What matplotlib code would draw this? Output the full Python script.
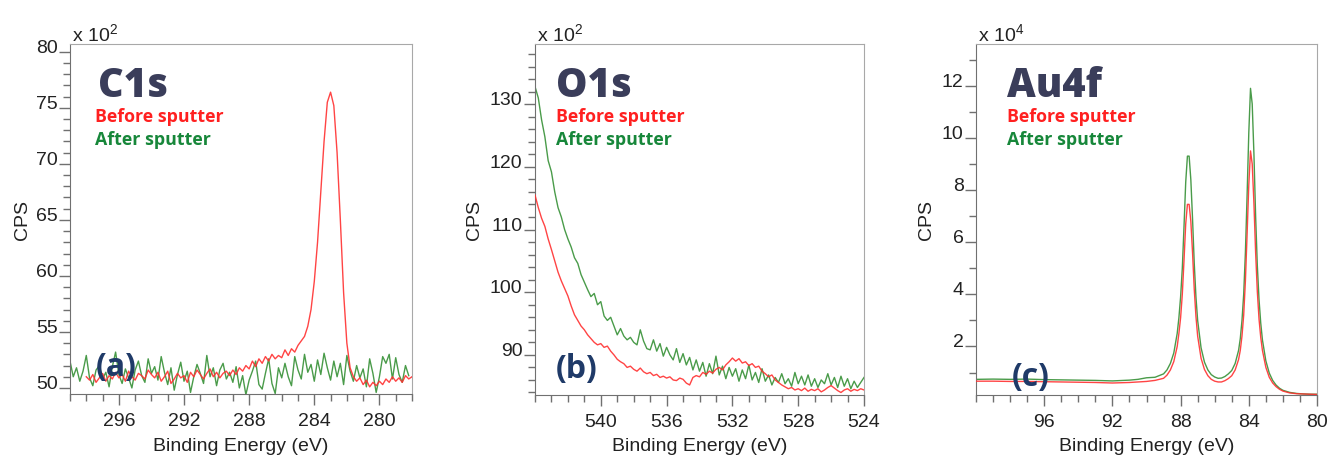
import numpy as np
import matplotlib
matplotlib.use("Agg")
import matplotlib.pyplot as plt
from matplotlib.ticker import MultipleLocator

plt.rcParams['font.family'] = ['Liberation Sans', 'DejaVu Sans']
plt.rcParams['mathtext.fontset'] = 'custom'
plt.rcParams['mathtext.rm'] = 'Liberation Sans'
plt.rcParams['mathtext.it'] = 'Liberation Sans'

# ---------------- data (intensities in units of the axis multiplier) ----------------
# C1s, 0.2 eV steps
c1s_after_start, c1s_before_start, c1s_step = 299.0, 298.0, 0.2
c1s_after = [
    52.4, 51.0, 51.8, 50.6, 51.5, 52.9, 50.9, 50.2, 51.6, 52.0,
    50.8, 51.4, 50.1, 51.9, 53.2, 51.2, 50.4, 51.7, 50.9, 50.0,
    51.6, 52.4, 51.1, 50.5, 52.6, 51.3, 51.9, 50.7, 52.8, 51.4,
    50.3, 51.8, 49.8, 51.2, 52.3, 50.6, 51.5, 49.6, 51.0, 52.1,
    51.3, 50.4, 52.9, 51.0, 51.8, 50.2, 51.6, 52.2, 50.8, 51.4,
    50.5, 51.9, 50.0, 51.1, 49.4, 50.7, 51.5, 52.4, 50.3, 49.9,
    51.3, 52.6, 50.4, 49.5, 51.8, 50.9, 52.2, 51.0, 50.2, 52.8,
    51.6, 50.8, 53.0, 51.4, 52.1, 50.6, 52.5, 51.2, 53.1, 51.8,
    50.7, 52.4, 51.0, 52.2, 50.3, 52.9, 51.5, 50.6, 52.0, 50.9,
    51.7, 50.1, 52.6, 51.3, 49.6, 51.0, 52.8, 52.2, 53.0, 50.8,
    52.7, 51.2, 50.5, 52.0, 51.1,
]
c1s_before = [
    51.0, 50.7, 51.2, 50.5, 50.9, 51.3, 50.6, 51.1, 50.8, 51.4,
    50.9, 51.2, 50.6, 51.5, 51.0, 50.7, 51.3, 51.1, 50.8, 51.6,
    51.2, 50.9, 51.4, 50.6, 51.0, 51.5, 50.4, 50.8, 51.3, 50.9,
    51.1, 50.5, 51.4, 51.0, 51.6, 51.2, 50.8, 51.3, 51.7, 51.0,
    51.4, 50.9, 51.3, 51.5, 51.1, 51.6, 51.2, 51.8, 51.5, 52.0,
    51.7, 52.4, 51.9, 52.6, 52.2, 52.8, 52.4, 53.0, 52.6, 52.9,
    52.7, 53.4, 52.9, 53.5, 53.2, 53.8, 54.2, 54.6, 55.5, 57.0,
    59.5, 63.0, 67.5, 72.0, 75.5, 76.4, 75.2, 71.0, 65.0, 58.5,
    54.0, 51.8, 51.0, 50.6, 50.9, 50.3, 50.7, 50.1, 50.5, 50.2,
    50.6, 50.3, 50.8, 50.5, 51.0, 50.6, 50.9, 50.5, 51.1, 50.8, 51.0,
]

# O1s, 0.2 eV steps from 544.0
o1s_start, o1s_step = 544.0, 0.2
o1s_before = [
    115.5, 113.5, 111.8, 110.5, 108.5, 106.8, 105.0, 103.2, 101.8, 100.6,
    99.4, 97.8, 96.4, 95.5, 94.6, 94.0, 93.2, 92.6, 92.0, 91.6,
    91.8, 91.2, 91.4, 90.6, 90.0, 89.3, 88.9, 88.6, 88.0, 88.2,
    87.7, 87.4, 87.9, 87.3, 87.0, 87.2, 86.7, 86.9, 86.4, 86.6,
    86.3, 86.5, 86.0, 85.9, 86.3, 86.1, 85.5, 85.2, 86.4, 86.7,
    86.5, 87.2, 86.9, 87.4, 87.1, 87.7, 88.0, 87.6, 88.4, 88.9,
    89.5, 89.0, 89.4, 88.7, 88.9, 88.3, 88.6, 88.0, 88.2, 87.4,
    87.0, 86.5, 86.8, 86.0, 85.6, 85.2, 84.9, 84.6, 84.8, 84.4,
    84.6, 84.3, 84.7, 84.2, 84.5, 84.3, 84.6, 84.1, 84.4, 84.8,
    85.1, 84.7, 84.3, 84.0, 84.4, 84.6, 84.2, 84.5, 84.3, 84.6, 84.4,
]
o1s_after = [
    132.8, 131.0, 127.5, 124.8, 121.0, 119.2, 116.0, 113.5, 112.0, 110.0,
    108.5, 107.2, 105.5, 104.6, 102.8, 101.6, 100.4, 99.3, 99.8, 98.0,
    98.5, 96.2, 95.5, 96.0, 94.6, 93.2, 94.2, 93.0, 92.4, 92.8,
    92.0, 91.6, 94.0, 92.2, 91.0, 90.8, 92.4, 90.6, 91.8, 89.8,
    91.2, 90.0, 89.2, 91.0, 88.8, 90.2, 88.4, 89.6, 87.6, 89.2,
    87.4, 88.8, 86.6, 88.6, 87.0, 89.8, 86.8, 88.2, 86.2, 88.0,
    86.6, 87.8, 85.8, 87.6, 86.2, 88.4, 86.0, 87.2, 85.6, 87.8,
    85.8, 86.8, 85.2, 86.4, 85.6, 87.0, 85.4, 86.2, 85.0, 87.2,
    85.4, 86.6, 85.2, 86.8, 85.0, 86.2, 84.8, 86.0, 85.4, 87.0,
    85.2, 86.4, 84.8, 86.6, 85.0, 86.2, 84.6, 85.8, 84.8, 85.6, 86.4,
]

# Au4f (x 10^4)
au4f_energy = [
    100.0, 99.0, 98.0, 97.0, 96.0, 95.0, 94.0, 93.0, 92.0, 91.0,
    90.5, 90.0, 89.5, 89.0, 88.8, 88.6, 88.4, 88.2, 88.1, 88.0,
    87.9, 87.8, 87.7, 87.6, 87.5, 87.4, 87.3, 87.2, 87.1, 87.0,
    86.8, 86.6, 86.4, 86.2, 86.0, 85.8, 85.6, 85.4, 85.2, 85.0,
    84.8, 84.6, 84.5, 84.4, 84.3, 84.2, 84.1, 84.0, 83.9, 83.8,
    83.7, 83.6, 83.5, 83.4, 83.3, 83.2, 83.0, 82.8, 82.6, 82.4,
    82.2, 82.0, 81.6, 81.2, 80.8, 80.4, 80.0,
]
au4f_after = [
    0.74, 0.75, 0.74, 0.75, 0.73, 0.72, 0.71, 0.70, 0.68, 0.71,
    0.74, 0.80, 0.82, 0.95, 1.10, 1.35, 1.75, 2.5, 3.1, 3.9,
    5.0, 6.6, 8.3, 9.3, 9.3, 8.4, 6.9, 5.2, 3.9, 3.0,
    1.95, 1.4, 1.1, 0.92, 0.83, 0.78, 0.79, 0.85, 0.95, 1.08,
    1.35, 1.85, 2.3, 3.0, 4.0, 5.6, 7.8, 10.2, 11.9, 11.3,
    9.4, 7.0, 5.1, 3.8, 2.9, 2.25, 1.45, 0.98, 0.70, 0.52,
    0.40, 0.32, 0.24, 0.20, 0.18, 0.17, 0.17,
]
au4f_before = [
    0.67, 0.67, 0.66, 0.66, 0.65, 0.64, 0.63, 0.62, 0.60, 0.62,
    0.64, 0.66, 0.70, 0.78, 0.90, 1.10, 1.42, 2.0, 2.5, 3.1,
    4.0, 5.3, 6.7, 7.45, 7.45, 6.8, 5.6, 4.2, 3.15, 2.4,
    1.55, 1.12, 0.88, 0.74, 0.67, 0.64, 0.64, 0.69, 0.77, 0.88,
    1.10, 1.50, 1.85, 2.4, 3.2, 4.5, 6.3, 8.2, 9.5, 9.0,
    7.5, 5.6, 4.1, 3.05, 2.35, 1.85, 1.2, 0.82, 0.60, 0.46,
    0.36, 0.29, 0.22, 0.19, 0.18, 0.17, 0.16,
]

titles = ["C1s", "O1s", "Au4f"]
panel_tags = ["(a)", "(b)", "(c)"]
multipliers = [r"x 10$^{\mathregular{2}}$", r"x 10$^{\mathregular{2}}$", r"x 10$^{\mathregular{4}}$"]
legend_before, legend_after = "Before sputter", "After sputter"


def grid(start, step, n):
    return start - step * np.arange(n)


series = [
    ((grid(c1s_before_start, c1s_step, len(c1s_before)), c1s_before),
     (grid(c1s_after_start, c1s_step, len(c1s_after)), c1s_after)),
    ((grid(o1s_start, o1s_step, len(o1s_before)), o1s_before),
     (grid(o1s_start, o1s_step, len(o1s_after)), o1s_after)),
    ((au4f_energy, au4f_before), (au4f_energy, au4f_after)),
]

RED, GREEN = "#ff3030", "#2a8a2a"
TXT_RED, TXT_GREEN = "#ff2020", "#17873a"
TITLE_C, TAG_C = "#3a3d5a", "#1f3a68"

W, H = 1328, 456
fig = plt.figure(figsize=(W / 100, H / 100), dpi=100)

cfg = [
    dict(rect=(70, 45, 412, 395), xlim=(299, 278), ylim=(49.46, 80.7),
         xmaj=np.arange(280, 297, 4), ymaj=np.arange(50, 81, 5), ymin=1,
         tx=98, lx=95, tagx=96, tagy=368, cpsx=22),
    dict(rect=(535, 45, 864, 396), xlim=(544, 524), ylim=(83.6, 139.6),
         xmaj=np.arange(524, 541, 4), ymaj=np.arange(90, 131, 10), ymin=2,
         tx=556, lx=556, tagx=556, tagy=370, cpsx=475),
    dict(rect=(976, 45, 1317, 396), xlim=(100, 80), ylim=(0.14, 13.6),
         xmaj=np.arange(80, 97, 4), ymaj=np.arange(2, 13, 2), ymin=1,
         tx=1007, lx=1007, tagx=1012, tagy=378, cpsx=927),
]

for i, c in enumerate(cfg):
    l, t, r, b = c["rect"]
    ax = fig.add_axes([l / W, 1 - b / H, (r - l) / W, (b - t) / H])
    (xb, yb), (xa, ya) = series[i]
    ax.plot(xb, yb, color=RED, lw=1.0, alpha=0.9, zorder=3)
    ax.plot(xa, ya, color=GREEN, lw=1.0, alpha=0.85, zorder=2)
    ax.set_xlim(*c["xlim"])
    ax.set_ylim(*c["ylim"])
    ax.set_xticks(c["xmaj"])
    ax.set_xticklabels([f"{v:d}" for v in c["xmaj"]])
    ax.xaxis.set_minor_locator(MultipleLocator(1))
    ax.set_yticks(c["ymaj"])
    ax.set_yticklabels([f"{v:d}" for v in c["ymaj"]], va="baseline")
    ax.yaxis.set_minor_locator(MultipleLocator(c["ymin"]))
    ax.tick_params(which="major", direction="out", length=8, width=1,
                   color="#707070", labelsize=14, labelcolor="#222222")
    ax.tick_params(which="minor", direction="out", length=5, width=1, color="#707070")
    ax.tick_params(axis="y", pad=1)
    ax.tick_params(axis="x", pad=5)
    for s in ("left", "bottom"):
        ax.spines[s].set_color("#707070")
    for s in ("top", "right"):
        ax.spines[s].set_color("#a8a8a8")
    ax.set_xlabel("Binding Energy (eV)", fontsize=14, color="#222222")
    ax.xaxis.set_label_coords(0.5, (b - 447) / (b - t))
    ax.xaxis.label.set_va("center")
    ax.set_ylabel("CPS", fontsize=14, color="#222222")
    ax.yaxis.set_label_coords((c["cpsx"] - l) / (r - l), 0.5)
    ax.yaxis.label.set_va("center")
    ax.text(2 / (r - l), 1 + 4 / (b - t), multipliers[i], transform=ax.transAxes,
            fontsize=14, color="#222222", va="baseline", ha="left")

    fig.text(c["tx"] / W, 1 - 97 / H, titles[i], family=["Open Sans", "DejaVu Sans"],
             fontweight="heavy", fontsize=28.5, color=TITLE_C, va="baseline")
    fig.text(c["lx"] / W, 1 - 122 / H, legend_before, family=["Open Sans", "DejaVu Sans"],
             fontweight="bold", fontsize=12.8, color=TXT_RED, va="baseline")
    fig.text(c["lx"] / W, 1 - 145 / H, legend_after, family=["Open Sans", "DejaVu Sans"],
             fontweight="bold", fontsize=12.8, color=TXT_GREEN, va="baseline")
    fig.text(c["tagx"] / W, 1 - c["tagy"] / H, panel_tags[i],
             family=["Open Sans", "DejaVu Sans"], fontweight="bold",
             fontsize=23, color=TAG_C, va="center", zorder=5)

fig.savefig("out.png", dpi=100)
